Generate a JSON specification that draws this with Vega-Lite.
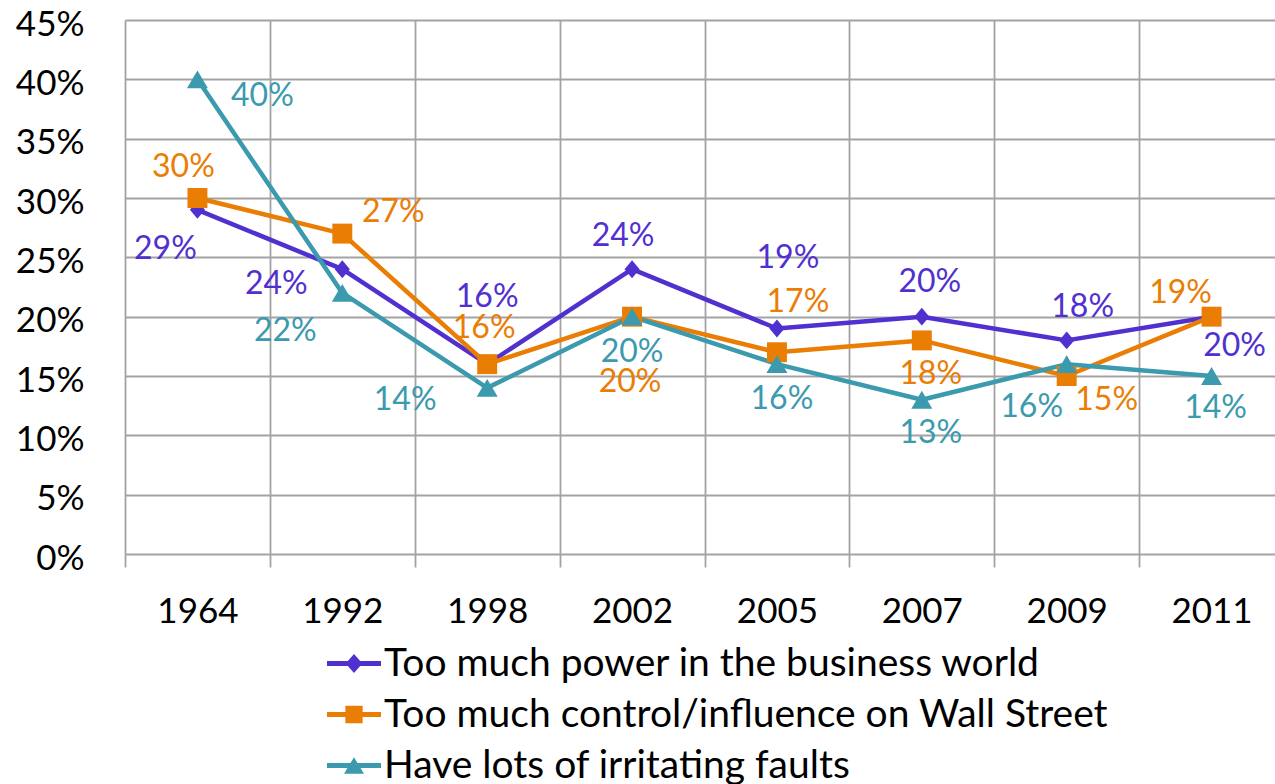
{
  "$schema": "https://vega.github.io/schema/vega-lite/v6.json",
  "width": 1150,
  "height": 534,
  "autosize": {"type": "none"},
  "padding": {"left": 125, "top": 20, "right": 0, "bottom": 230},
  "background": "white",
  "config": {
    "view": {"stroke": null},
    "font": "Lato",
    "axis": {"gridColor": "#a3a3a3", "gridWidth": 1.8, "gridOpacity": 1, "tickColor": "#a3a3a3", "tickWidth": 1.8, "labelColor": "#000000", "labelFont": "Lato", "labelFontSize": 35},
    "text": {"font": "Lato", "fontSize": 32, "align": "center", "baseline": "middle"}
  },
  "data": {
    "values": [
      {"series": "Too much power in the business world", "year": "1964", "value": 0.29, "label": "29%"},
      {"series": "Too much power in the business world", "year": "1992", "value": 0.24, "label": "24%"},
      {"series": "Too much power in the business world", "year": "1998", "value": 0.16, "label": "16%"},
      {"series": "Too much power in the business world", "year": "2002", "value": 0.24, "label": "24%"},
      {"series": "Too much power in the business world", "year": "2005", "value": 0.19, "label": "19%"},
      {"series": "Too much power in the business world", "year": "2007", "value": 0.20, "label": "20%"},
      {"series": "Too much power in the business world", "year": "2009", "value": 0.18, "label": "18%"},
      {"series": "Too much power in the business world", "year": "2011", "value": 0.20, "label": "20%"},
      {"series": "Too much control/influence on Wall Street", "year": "1964", "value": 0.30, "label": "30%"},
      {"series": "Too much control/influence on Wall Street", "year": "1992", "value": 0.27, "label": "27%"},
      {"series": "Too much control/influence on Wall Street", "year": "1998", "value": 0.16, "label": "16%"},
      {"series": "Too much control/influence on Wall Street", "year": "2002", "value": 0.20, "label": "20%"},
      {"series": "Too much control/influence on Wall Street", "year": "2005", "value": 0.17, "label": "17%"},
      {"series": "Too much control/influence on Wall Street", "year": "2007", "value": 0.18, "label": "18%"},
      {"series": "Too much control/influence on Wall Street", "year": "2009", "value": 0.15, "label": "15%"},
      {"series": "Too much control/influence on Wall Street", "year": "2011", "value": 0.20, "label": "19%"},
      {"series": "Have lots of irritating faults", "year": "1964", "value": 0.40, "label": "40%"},
      {"series": "Have lots of irritating faults", "year": "1992", "value": 0.22, "label": "22%"},
      {"series": "Have lots of irritating faults", "year": "1998", "value": 0.14, "label": "14%"},
      {"series": "Have lots of irritating faults", "year": "2002", "value": 0.20, "label": "20%"},
      {"series": "Have lots of irritating faults", "year": "2005", "value": 0.16, "label": "16%"},
      {"series": "Have lots of irritating faults", "year": "2007", "value": 0.13, "label": "13%"},
      {"series": "Have lots of irritating faults", "year": "2009", "value": 0.16, "label": "16%"},
      {"series": "Have lots of irritating faults", "year": "2011", "value": 0.15, "label": "14%"}
    ]
  },
  "encoding": {
    "x": {
      "field": "year", "type": "ordinal", "sort": null,
      "scale": {"type": "band", "range": [0, 1159], "paddingInner": 0, "paddingOuter": 0},
      "axis": {"title": null, "domain": false, "grid": true, "tickBand": "extent", "ticks": true, "tickSize": 13, "labelPadding": 27, "labelAngle": 0}
    },
    "y": {
      "field": "value", "type": "quantitative",
      "scale": {"domain": [0, 0.45], "nice": false, "zero": true},
      "axis": {"title": null, "domain": false, "ticks": false, "grid": true, "labelPadding": 41, "labelOffset": 4, "values": [0, 0.05, 0.1, 0.15, 0.2, 0.25, 0.3, 0.35, 0.4, 0.45], "format": ".0%"}
    },
    "color": {
      "field": "series", "type": "nominal", "sort": null,
      "scale": {
        "domain": ["Too much power in the business world", "Too much control/influence on Wall Street", "Have lots of irritating faults"],
        "range": ["#5130d0", "#ea7d04", "#3b9aae"]
      },
      "legend": {
        "orient": "none", "legendX": 202, "legendY": 618, "title": null, "direction": "vertical",
        "labelFont": "Lato", "labelFontSize": 39, "labelColor": "#000000", "labelLimit": 0, "labelOffset": 3,
        "symbolSize": 2916, "clipHeight": 51, "rowPadding": 0, "padding": 0, "symbolStrokeWidth": 0, "symbolOpacity": 1
      }
    }
  },
  "layer": [
    {"mark": {"type": "line", "strokeWidth": 4.5, "strokeJoin": "round"}},
    {
      "mark": {"type": "point", "filled": true, "size": 0, "strokeWidth": 0},
      "encoding": {
        "shape": {
          "field": "series", "type": "nominal", "legend": null,
          "scale": {
            "domain": ["Too much power in the business world", "Too much control/influence on Wall Street", "Have lots of irritating faults"],
            "range": [
              "M-1,-0.09L1,-0.09L1,0.09L-1,0.09Z M0,-0.35L0.31,0L0,0.35L-0.31,0Z",
              "M-1,-0.09L1,-0.09L1,0.09L-1,0.09Z M-0.32,-0.32L0.32,-0.32L0.32,0.32L-0.32,0.32Z",
              "M-1,-0.09L1,-0.09L1,0.09L-1,0.09Z M0,-0.31L0.37,0.31L-0.37,0.31Z"
            ]
          }
        }
      }
    },
    {
      "transform": [{"filter": "datum.series==='Too much power in the business world'"}],
      "mark": {"type": "point", "filled": true, "opacity": 1, "size": 441, "strokeWidth": 0, "shape": "M0,-0.85L0.72,0L0,0.85L-0.72,0Z"}
    },
    {
      "transform": [{"filter": "datum.series==='Too much control/influence on Wall Street'"}],
      "mark": {"type": "point", "filled": true, "opacity": 1, "size": 441, "strokeWidth": 0, "shape": "M-0.95,-0.95L0.95,-0.95L0.95,0.95L-0.95,0.95Z"}
    },
    {
      "transform": [{"filter": "datum.series==='Have lots of irritating faults'"}],
      "mark": {"type": "point", "filled": true, "opacity": 1, "size": 441, "strokeWidth": 0, "shape": "M0,-0.85L1,0.85L-1,0.85Z"}
    },
    {
      "encoding": {"text": {"field": "label"}},
      "layer": [
        {"transform": [{"filter": "datum.series==='Too much power in the business world' && datum.year==='1964'"}], "mark": {"type": "text", "dx": -32, "dy": 39}},
        {"transform": [{"filter": "datum.series==='Too much power in the business world' && datum.year==='1992'"}], "mark": {"type": "text", "dx": -66, "dy": 15}},
        {"transform": [{"filter": "datum.series==='Too much power in the business world' && datum.year==='1998'"}], "mark": {"type": "text", "dx": 0, "dy": -67}},
        {"transform": [{"filter": "datum.series==='Too much power in the business world' && datum.year==='2002'"}], "mark": {"type": "text", "dx": -9, "dy": -33}},
        {"transform": [{"filter": "datum.series==='Too much power in the business world' && datum.year==='2005'"}], "mark": {"type": "text", "dx": 11, "dy": -71}},
        {"transform": [{"filter": "datum.series==='Too much power in the business world' && datum.year==='2007'"}], "mark": {"type": "text", "dx": 8, "dy": -35}},
        {"transform": [{"filter": "datum.series==='Too much power in the business world' && datum.year==='2009'"}], "mark": {"type": "text", "dx": 16, "dy": -33}},
        {"transform": [{"filter": "datum.series==='Too much power in the business world' && datum.year==='2011'"}], "mark": {"type": "text", "dx": 23, "dy": 29}},
        {"transform": [{"filter": "datum.series==='Too much control/influence on Wall Street' && datum.year==='1964'"}], "mark": {"type": "text", "dx": -14, "dy": -31}},
        {"transform": [{"filter": "datum.series==='Too much control/influence on Wall Street' && datum.year==='1992'"}], "mark": {"type": "text", "dx": 51, "dy": -22}},
        {"transform": [{"filter": "datum.series==='Too much control/influence on Wall Street' && datum.year==='1998'"}], "mark": {"type": "text", "dx": -3, "dy": -36}},
        {"transform": [{"filter": "datum.series==='Too much control/influence on Wall Street' && datum.year==='2002'"}], "mark": {"type": "text", "dx": -2, "dy": 65}},
        {"transform": [{"filter": "datum.series==='Too much control/influence on Wall Street' && datum.year==='2005'"}], "mark": {"type": "text", "dx": 21, "dy": -50}},
        {"transform": [{"filter": "datum.series==='Too much control/influence on Wall Street' && datum.year==='2007'"}], "mark": {"type": "text", "dx": 9, "dy": 34}},
        {"transform": [{"filter": "datum.series==='Too much control/influence on Wall Street' && datum.year==='2009'"}], "mark": {"type": "text", "dx": 40, "dy": 24}},
        {"transform": [{"filter": "datum.series==='Too much control/influence on Wall Street' && datum.year==='2011'"}], "mark": {"type": "text", "dx": -31, "dy": -24}},
        {"transform": [{"filter": "datum.series==='Have lots of irritating faults' && datum.year==='1964'"}], "mark": {"type": "text", "dx": 65, "dy": 17}},
        {"transform": [{"filter": "datum.series==='Have lots of irritating faults' && datum.year==='1992'"}], "mark": {"type": "text", "dx": -57, "dy": 38}},
        {"transform": [{"filter": "datum.series==='Have lots of irritating faults' && datum.year==='1998'"}], "mark": {"type": "text", "dx": -82, "dy": 12}},
        {"transform": [{"filter": "datum.series==='Have lots of irritating faults' && datum.year==='2002'"}], "mark": {"type": "text", "dx": 0, "dy": 35}},
        {"transform": [{"filter": "datum.series==='Have lots of irritating faults' && datum.year==='2005'"}], "mark": {"type": "text", "dx": 5, "dy": 35}},
        {"transform": [{"filter": "datum.series==='Have lots of irritating faults' && datum.year==='2007'"}], "mark": {"type": "text", "dx": 9, "dy": 33}},
        {"transform": [{"filter": "datum.series==='Have lots of irritating faults' && datum.year==='2009'"}], "mark": {"type": "text", "dx": -35, "dy": 43}},
        {"transform": [{"filter": "datum.series==='Have lots of irritating faults' && datum.year==='2011'"}], "mark": {"type": "text", "dx": 4, "dy": 32}}
      ]
    }
  ]
}
